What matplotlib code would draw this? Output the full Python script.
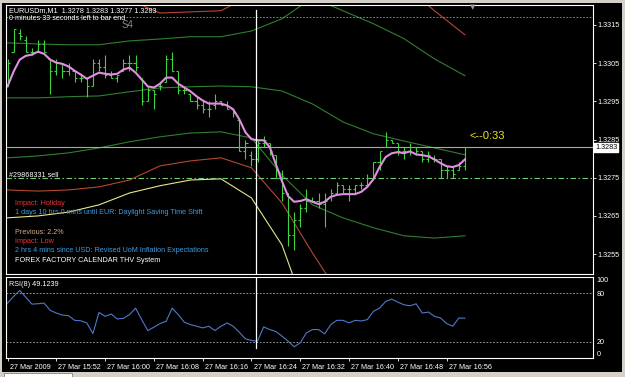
import numpy as np
import matplotlib.pyplot as plt
from matplotlib.patches import Rectangle
from matplotlib.transforms import ScaledTranslation, blended_transform_factory

plt.rcParams['font.family'] = ['Liberation Sans', 'DejaVu Sans']

# EURUSDm M1 bars, one per minute from 27 Mar 2009 15:44
bar_high = [1.3306, 1.3314, 1.3314, 1.3312, 1.3309, 1.3311, 1.3311, 1.3306, 1.3306, 1.3305,
            1.3305, 1.3303, 1.3302, 1.3301, 1.3306, 1.3306, 1.3307, 1.3303, 1.3302, 1.3306,
            1.3307, 1.3307, 1.3301, 1.3299, 1.3298, 1.3300, 1.3307, 1.3308, 1.3303, 1.3299,
            1.3297, 1.3296, 1.3295, 1.3295, 1.3297, 1.3295, 1.3295, 1.3293, 1.3290, 1.3285,
            1.3282, 1.3285, 1.3286, 1.3284, 1.3281, 1.3277, 1.3271, 1.3266, 1.3268, 1.3272,
            1.3270, 1.3271, 1.3271, 1.3272, 1.3274, 1.3273, 1.3273, 1.3273, 1.3274, 1.3276,
            1.3279, 1.3282, 1.3287, 1.3285, 1.3284, 1.3283, 1.3284, 1.3283, 1.3282, 1.3282,
            1.3281, 1.3280, 1.3278, 1.3278, 1.3279, 1.3283]
bar_low = [1.3299, 1.3308, 1.3311, 1.3308, 1.3307, 1.3308, 1.3308, 1.3297, 1.3302, 1.3301,
           1.3302, 1.3300, 1.3300, 1.3296, 1.3299, 1.3303, 1.3301, 1.3301, 1.3300, 1.3303,
           1.3303, 1.3303, 1.3294, 1.3295, 1.3293, 1.3298, 1.3300, 1.3303, 1.3297, 1.3297,
           1.3295, 1.3293, 1.3292, 1.3291, 1.3293, 1.3294, 1.3293, 1.3291, 1.3282, 1.3280,
           1.3278, 1.3279, 1.3283, 1.3281, 1.3275, 1.3269, 1.3257, 1.3256, 1.3262, 1.3266,
           1.3269, 1.3267, 1.3262, 1.3269, 1.3271, 1.3271, 1.3269, 1.3271, 1.3272, 1.3273,
           1.3275, 1.3277, 1.3283, 1.3284, 1.3281, 1.3280, 1.3281, 1.3281, 1.3279, 1.3279,
           1.3279, 1.3275, 1.3275, 1.3275, 1.3277, 1.3277]
bar_open = [1.3299, 1.3308, 1.3313, 1.3311, 1.3308, 1.3308, 1.3310, 1.3306, 1.3303, 1.3305,
            1.3303, 1.3303, 1.3301, 1.3301, 1.3299, 1.3305, 1.3304, 1.3302, 1.3301, 1.3303,
            1.3305, 1.3305, 1.3301, 1.3295, 1.3298, 1.3299, 1.3300, 1.3306, 1.3303, 1.3298,
            1.3297, 1.3295, 1.3294, 1.3293, 1.3294, 1.3295, 1.3294, 1.3293, 1.3290, 1.3282,
            1.3281, 1.3280, 1.3284, 1.3284, 1.3281, 1.3275, 1.3271, 1.3260, 1.3264, 1.3267,
            1.3269, 1.3269, 1.3268, 1.3270, 1.3271, 1.3273, 1.3272, 1.3272, 1.3273, 1.3273,
            1.3275, 1.3279, 1.3283, 1.3285, 1.3284, 1.3282, 1.3282, 1.3283, 1.3282, 1.3280,
            1.3280, 1.3280, 1.3277, 1.3277, 1.3277, 1.3278]
bar_close = [1.3305, 1.3314, 1.3312, 1.3308, 1.3308, 1.3310, 1.3308, 1.3303, 1.3305, 1.3303,
             1.3304, 1.3301, 1.3301, 1.3299, 1.3305, 1.3304, 1.3302, 1.3301, 1.3302, 1.3305,
             1.3305, 1.3304, 1.3295, 1.3298, 1.3297, 1.3299, 1.3306, 1.3303, 1.3298, 1.3298,
             1.3295, 1.3294, 1.3293, 1.3293, 1.3295, 1.3294, 1.3293, 1.3292, 1.3282, 1.3284,
             1.3280, 1.3284, 1.3285, 1.3282, 1.3275, 1.3271, 1.3260, 1.3264, 1.3267, 1.3269,
             1.3269, 1.3268, 1.3269, 1.3271, 1.3273, 1.3272, 1.3272, 1.3273, 1.3273, 1.3275,
             1.3279, 1.3282, 1.3285, 1.3284, 1.3282, 1.3282, 1.3283, 1.3282, 1.3280, 1.3281,
             1.3280, 1.3277, 1.3277, 1.3276, 1.3278, 1.3283]

# smoothed average (magenta)
ma_line = [1.32989, 1.33028, 1.33059, 1.33069, 1.33072, 1.33080, 1.33074, 1.33059, 1.33051, 1.33048,
           1.33041, 1.33030, 1.33020, 1.33009, 1.33017, 1.33025, 1.33022, 1.33020, 1.33022, 1.33033,
           1.33038, 1.33025, 1.33007, 1.32989, 1.32986, 1.32996, 1.33012, 1.33012, 1.32996, 1.32986,
           1.32976, 1.32963, 1.32952, 1.32944, 1.32944, 1.32944, 1.32939, 1.32929, 1.32903, 1.32869,
           1.32851, 1.32848, 1.32848, 1.32830, 1.32785, 1.32741, 1.32702, 1.32687, 1.32689, 1.32694,
           1.32687, 1.32681, 1.32687, 1.32700, 1.32705, 1.32707, 1.32707, 1.32707, 1.32713, 1.32726,
           1.32746, 1.32778, 1.32804, 1.32814, 1.32817, 1.32814, 1.32819, 1.32811, 1.32809, 1.32806,
           1.32798, 1.32788, 1.32780, 1.32778, 1.32783, 1.32798]

# band lines, read every 5 bars
band_bars = [0, 5, 10, 15, 20, 25, 30, 35, 40, 45, 50, 55, 60, 65, 70, 75]
green_up = [1.33103, 1.33100, 1.33098, 1.33098, 1.33108, 1.33113, 1.33119, 1.33119,
            1.33134, 1.33166, 1.33221, 1.33187, 1.33153, 1.33114, 1.33061, 1.33017]
green_mid = [1.32959, 1.32959, 1.32962, 1.32964, 1.32975, 1.32985, 1.32988, 1.32990,
             1.32988, 1.32977, 1.32943, 1.32896, 1.32865, 1.32846, 1.32828, 1.32810]
green_low = [1.32802, 1.32807, 1.32815, 1.32828, 1.32844, 1.32857, 1.32867, 1.32870,
             1.32854, 1.32757, 1.32679, 1.32645, 1.32619, 1.32598, 1.32592, 1.32598]
red_up = [1.33255, 1.33247, 1.33236, 1.33225, 1.33215, 1.33181, 1.33184, 1.33187,
          1.33229, 1.33294, 1.33346, 1.33346, 1.33320, 1.33255, 1.33187, 1.33124]
red_low = [1.32718, 1.32715, 1.32718, 1.32726, 1.32744, 1.32781, 1.32794, 1.32802,
           1.32776, 1.32684, 1.32553, 1.32430, 1.32391, 1.32365, 1.32352, 1.32352]
yellow_low = [1.32645, 1.32650, 1.32660, 1.32679, 1.32710, 1.32729, 1.32744, 1.32747,
              1.32697, 1.32574, 1.32352, 1.32273, 1.32221, 1.32194, 1.32181, 1.32181]

rsi = [67.8, 76.0, 83.3, 75.0, 66.5, 67.0, 67.8, 58.8, 55.5, 53.0,
       52.3, 46.5, 46.0, 43.3, 30.2, 56.3, 51.4, 54.3, 48.2, 49.0,
       53.5, 61.6, 47.4, 33.9, 38.0, 42.5, 45.3, 61.6, 53.5, 44.1,
       41.2, 39.2, 37.2, 39.2, 33.9, 39.2, 43.3, 39.2, 31.9, 23.7,
       21.6, 20.8, 38.4, 35.1, 32.7, 27.0, 20.8, 13.9, 18.8, 31.0,
       35.1, 35.1, 29.8, 41.2, 46.5, 46.5, 43.3, 46.5, 45.7, 47.4,
       57.6, 61.6, 69.8, 72.7, 69.0, 65.7, 64.5, 66.9, 55.5, 56.7,
       51.4, 49.4, 42.5, 39.2, 49.4, 49.1239]

price_ticks = [1.3255, 1.3265, 1.3275, 1.3285, 1.3295, 1.3305, 1.3315]
date_bars = [0, 8, 16, 24, 32, 40, 48, 56, 64, 72]
date_labels = ['27 Mar 2009', '27 Mar 15:52', '27 Mar 16:00', '27 Mar 16:08',
               '27 Mar 16:16', '27 Mar 16:24', '27 Mar 16:32', '27 Mar 16:40',
               '27 Mar 16:48', '27 Mar 16:56']
bid = 1.3283
order_price = 1.3275
s4_level = 1.3317
cursor_bar = 40.8

W, H = 625, 377
def fx(px):
    return px / W
def fy(py):
    return 1 - py / H

bar_col = '#3fd23f'
fs = 5.2

fig = plt.figure(figsize=(6.25, 3.77), dpi=100, facecolor='#d4d0c8')
fig.patches.append(Rectangle((fx(2), fy(372)), fx(620), 369 / H, transform=fig.transFigure,
                             facecolor='black', edgecolor='none', zorder=-10))
fig.patches.append(Rectangle((fx(4), fy(377)), fx(68), 4 / H, transform=fig.transFigure,
                             facecolor='white', edgecolor='#808080', lw=0.6, zorder=-10))

ax = fig.add_axes([fx(6), fy(274), fx(587), 269 / H], facecolor='black')
axr = fig.add_axes([fx(6), fy(358), fx(587), 81 / H], facecolor='black', sharex=ax)

x = np.arange(len(bar_high))
xl = (-0.25, 96.0)

# main pane
ax.plot(band_bars, red_up, color='#b4472f', lw=0.8)
ax.plot(band_bars, green_up, color='#2f7f2f', lw=0.8)
ax.plot(band_bars, green_mid, color='#2f7f2f', lw=0.8)
ax.plot(band_bars, green_low, color='#2f7f2f', lw=0.8)
ax.plot(band_bars, red_low, color='#b4472f', lw=0.8)
ax.plot(band_bars, yellow_low, color='#e6e68a', lw=0.8)

ax.axhline(s4_level, color='#9a9a9a', lw=0.6, ls=(0, (2, 2)))
ax.axhline(bid, color='#a8a8a8', lw=0.8)
ax.axhline(order_price, color='#6fcf6f', lw=0.8, ls=(0, (5, 2.2, 1.4, 2.2)))

ax.vlines(x, bar_low, bar_high, color=bar_col, lw=0.8)
ax.hlines(bar_open, x - 0.35, x, color=bar_col, lw=0.8)
ax.hlines(bar_close, x, x + 0.35, color=bar_col, lw=0.8)
ax.plot(x, ma_line, color='#e28fe2', lw=1.5)

ax.axvline(cursor_bar, ymin=0, ymax=(274 - 10) / 269, color='white', lw=0.9)

ax.set_xlim(xl)
ax.set_ylim(1.32498, 1.33202)
ax.set_yticks(price_ticks)
ax.set_yticklabels(['%.4f' % p for p in price_ticks])
ax.yaxis.tick_right()
ax.tick_params(axis='y', colors='white', length=2, width=0.6, pad=1.2, labelsize=fs)
ax.tick_params(axis='x', bottom=False, labelbottom=False)
for s in ax.spines.values():
    s.set_color('white')
    s.set_linewidth(0.8)

trans = blended_transform_factory(ax.transAxes, ax.transData)
ax.text(1.004, bid, '%.4f' % bid, transform=trans, fontsize=fs, color='black', va='center',
        ha='left', bbox=dict(facecolor='white', edgecolor='white', pad=0.6))

# RSI pane
axr.axhline(80, color='#b0b0b0', lw=0.6, ls=(0, (2, 2)))
axr.axhline(20, color='#b0b0b0', lw=0.6, ls=(0, (2, 2)))
axr.plot(x, rsi, color='#4f78c8', lw=0.8)
axr.axvline(cursor_bar, ymin=(358 - 348) / 81, ymax=1, color='white', lw=0.9)
axr.set_ylim(0, 100)
axr.set_yticks([0, 20, 80, 100])
axr.set_yticklabels(['0', '20', '80', '100'])
axr.yaxis.tick_right()
axr.tick_params(axis='y', colors='white', length=0, pad=2.5, labelsize=fs)
yl = axr.get_yticklabels()
yl[0].set_va('bottom')
yl[3].set_va('top')
axr.set_xticks(date_bars)
axr.set_xticklabels(date_labels)
axr.tick_params(axis='x', colors='white', length=2.5, width=0.6, pad=2, labelsize=fs)
for lab in axr.get_xticklabels():
    lab.set_ha('left')
    lab.set_transform(lab.get_transform() + ScaledTranslation(1.5 / 72, 0, fig.dpi_scale_trans))
for s in axr.spines.values():
    s.set_color('white')
    s.set_linewidth(0.8)
axr.set_xlim(xl)

# texts
fig.text(fx(9), fy(11), 'EURUSDm,M1  1.3278 1.3283 1.3277 1.3283', color='white', fontsize=fs, va='center')
fig.text(fx(9), fy(19), '0 minutes 33 seconds left to bar end', color='white', fontsize=fs, va='center')
fig.text(fx(122), fy(25), 'S4', color='#8c8c8c', fontsize=7, va='center')
fig.text(fx(473), fy(7), '\u25bc', color='#9a9a9a', fontsize=5, va='center', ha='center',
         family='DejaVu Sans')
fig.text(fx(469), fy(136), '<--0:33', color='#e6e61e', fontsize=8, va='center')
fig.text(fx(9), fy(175), '#29868331 sell', color='white', fontsize=fs, va='center')
fig.text(fx(15), fy(203.5), 'Impact: Holiday', color='#e03535', fontsize=fs, va='center')
fig.text(fx(15), fy(212.5), '1 days 10 hrs 0 mins until EUR: Daylight Saving Time Shift',
         color='#3d9be0', fontsize=fs, va='center')
fig.text(fx(15), fy(232), 'Previous: 2.2%', color='#cfae8a', fontsize=fs, va='center')
fig.text(fx(15), fy(242), 'Impact: Low', color='#e03535', fontsize=fs, va='center')
fig.text(fx(15), fy(251), '2 hrs 4 mins since USD: Revised UoM Inflation Expectations',
         color='#3d9be0', fontsize=fs, va='center')
fig.text(fx(15), fy(261), 'FOREX FACTORY CALENDAR THV System', color='white', fontsize=fs, va='center')
fig.text(fx(9), fy(284), 'RSI(8) 49.1239', color='white', fontsize=fs, va='center')

fig.savefig('out.png', dpi=100, facecolor=fig.get_facecolor())
